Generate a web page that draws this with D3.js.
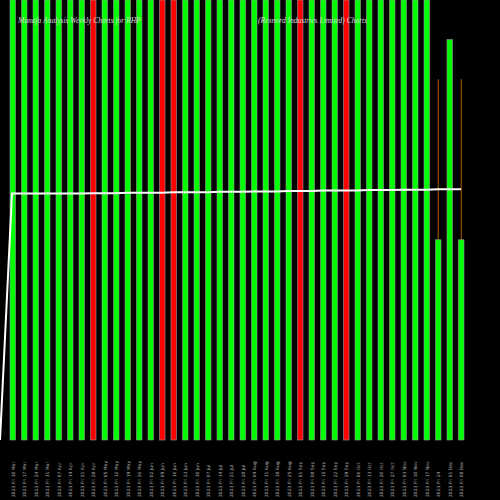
<!DOCTYPE html><html><head><script src="https://cdn.jsdelivr.net/npm/d3@7"></script>
<style>body{margin:0;background:#000}</style></head><body><svg id="c" width="500" height="500"></svg><script>
const labels=["2023 Fri 10 Mar","2023 Fri 17 Mar","2023 Fri 24 Mar","2023 Fri 31 Mar","2023 Fri 07 Apr","2023 Fri 14 Apr","2023 Fri 21 Apr","2023 Fri 28 Apr","2023 Fri 05 May","2023 Fri 12 May","2023 Fri 19 May","2023 Fri 26 May","2023 Fri 02 Jun","2023 Fri 09 Jun","2023 Fri 16 Jun","2023 Fri 23 Jun","2023 Fri 30 Jun","2023 Fri 07 Jul","2023 Fri 14 Jul","2023 Fri 21 Jul","2023 Fri 28 Jul","2023 Fri 04 Aug","2023 Fri 11 Aug","2023 Fri 18 Aug","2023 Fri 25 Aug","2023 Fri 01 Sep","2023 Fri 08 Sep","2023 Fri 15 Sep","2023 Fri 22 Sep","2023 Fri 29 Sep","2023 Fri 06 Oct","2023 Fri 13 Oct","2023 Fri 20 Oct","2023 Fri 27 Oct","2023 Fri 03 Nov","2023 Fri 10 Nov","2023 Fri 17 Nov","2023 Fri 24","2023 Fri 01 Dec","2023 Fri 08 Dec"];
const values=[100,100,100,100,100,100,100,100,100,100,100,100,100,100,100,100,100,100,100,100,100,100,100,100,100,100,100,100,100,100,100,100,100,100,100,100,100,45.5,91,45.5];
const colors=["g","g","g","g","g","g","g","r","g","g","g","g","g","r","r","g","g","g","g","g","g","g","g","g","g","r","g","g","g","r","g","g","g","g","g","g","g","g","g","g"];
const wicks=[null,null,null,null,null,null,null,null,null,null,null,null,null,null,null,null,null,null,null,null,null,null,null,null,null,null,null,null,null,null,null,null,null,null,null,null,null,82,null,82];
const lineVals=[0,56,56,56,56,56,56,56,56.1,56.1,56.1,56.2,56.2,56.2,56.2,56.3,56.3,56.3,56.3,56.4,56.4,56.4,56.5,56.5,56.5,56.6,56.6,56.6,56.7,56.7,56.7,56.7,56.8,56.8,56.8,56.9,56.9,56.9,57,57,57];
const svg=d3.select("#c");
const x=d3.scaleLinear().domain([0,40]).range([10,470]);
const y=d3.scaleLinear().domain([0,100]).range([440,0]);
const bw=5.5;
svg.selectAll("line.w").data(wicks.map((v,i)=>({v,i})).filter(d=>d.v!=null)).join("line")
 .attr("x1",d=>x(d.i)+bw/2).attr("x2",d=>x(d.i)+bw/2).attr("y1",d=>y(d.v)).attr("y2",y(0)).attr("stroke","#b35900").attr("stroke-width",1);
svg.selectAll("rect").data(values).join("rect")
 .attr("x",(d,i)=>x(i)).attr("width",bw).attr("y",d=>y(d)).attr("height",d=>y(0)-y(d))
 .attr("fill",(d,i)=>colors[i]=="r"?"#ff0000":"#00ff00").attr("stroke","#999").attr("stroke-width",0.6);
const lx=d3.scaleLinear().domain([-1,39]).range([0,461]);
const lx2=d3.scaleLinear().domain([-1,0,39]).range([0,12,461]);
svg.append("path").datum(lineVals).attr("fill","none").attr("stroke","#fff").attr("stroke-width",2)
 .attr("d",d3.line().x((d,i)=>lx2(i-1)).y(d=>y(d)));
svg.selectAll("text.l").data(labels).join("text").attr("class","l")
 .attr("transform",(d,i)=>`translate(${x(i)+bw/2+2},497) rotate(-90)`)
 .attr("fill","#aaa").attr("font-size",4.5).attr("font-family","DejaVu Sans").text(d=>d);
svg.append("text").attr("x",18).attr("y",23).attr("fill","#ddd").attr("font-size",7.5).attr("font-style","italic").attr("font-family","Liberation Serif").text("Munafa Analysis Weekly Charts for RHP");
svg.append("text").attr("x",258).attr("y",23).attr("fill","#ddd").attr("font-size",7.5).attr("font-style","italic").attr("font-family","Liberation Serif").text("(Rexnord Industries Limited) Charts");
</script></body></html>
